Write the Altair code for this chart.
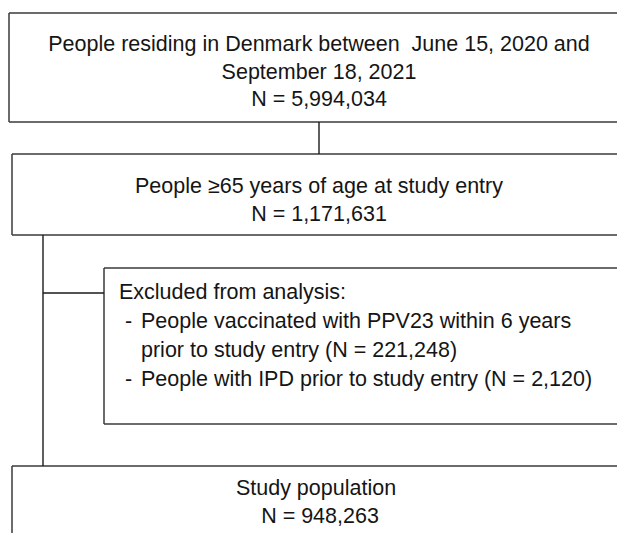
import altair as alt
import pandas as pd

# Box geometry (pixel coordinates of the reference image); boxes run off the right edge
box_names = ["source", "age", "excluded", "study"]
box_x1 = [9, 12, 104, 12]
box_y1 = [13, 154, 268, 466]
box_y2 = [122, 235, 424, 600]

# Connector lines
line_x1 = [319, 43, 43]
line_x2 = [319, 43, 104]
line_y1 = [122, 235, 293]
line_y2 = [154, 466, 293]

# Centered texts
center_text = [
    "People residing in Denmark between\u00a0 June 15, 2020 and",
    "September 18, 2021",
    "N = 5,994,034",
    "People \u226565 years of age at study entry",
    "N = 1,171,631",
    "Study population",
    "N = 948,263",
]
center_x = [319, 319, 319, 319, 319, 316, 320]
center_y = [51, 79, 106, 193, 221, 495, 523]

# Left-aligned texts (exclusion box)
left_text = [
    "Excluded from analysis:",
    "-",
    "People vaccinated with PPV23 within 6 years",
    "prior to study entry (N = 221,248)",
    "-",
    "People with IPD prior to study entry (N = 2,120)",
]
left_x = [119, 125, 141, 141, 125, 141]
left_y = [299, 328, 328, 357, 386, 386]

W, H = 609, 525
RIGHT = 8 + W + 20
X = alt.Scale(domain=[8, 8 + W], nice=False, zero=False)
Y = alt.Scale(domain=[8 + H, 8], nice=False, zero=False)

# box borders as segments (top, bottom, left), right side runs off the page
seg_rows = []
for n, x1, y1, y2 in zip(box_names, box_x1, box_y1, box_y2):
    seg_rows.append({"x1": x1, "x2": RIGHT, "y1": y1, "y2": y1})
    seg_rows.append({"x1": x1, "x2": RIGHT, "y1": y2, "y2": y2})
    seg_rows.append({"x1": x1, "x2": x1, "y1": y1, "y2": y2})
segs = pd.DataFrame(seg_rows)
lines = pd.DataFrame({"x1": line_x1, "x2": line_x2, "y1": line_y1, "y2": line_y2})
ctext = pd.DataFrame({"t": center_text, "x": center_x, "y": center_y})
ltext = pd.DataFrame({"t": left_text, "x": left_x, "y": left_y})

FONT = "Liberation Sans"
FS = 21.5
COL = "#151515"

borders = alt.Chart(segs).mark_rule(color="#3a3a3a", strokeWidth=1.5, clip=True).encode(
    x=alt.X("x1:Q", scale=X, axis=None),
    x2="x2:Q",
    y=alt.Y("y1:Q", scale=Y, axis=None),
    y2="y2:Q",
)

rules = alt.Chart(lines).mark_rule(color="#1a1a1a", strokeWidth=1.4).encode(
    x=alt.X("x1:Q", scale=X, axis=None),
    x2="x2:Q",
    y=alt.Y("y1:Q", scale=Y, axis=None),
    y2="y2:Q",
)

ct = alt.Chart(ctext).mark_text(
    font=FONT, fontSize=FS, color=COL, align="center", baseline="alphabetic"
).encode(
    x=alt.X("x:Q", scale=X, axis=None),
    y=alt.Y("y:Q", scale=Y, axis=None),
    text="t:N",
)

lt = alt.Chart(ltext).mark_text(
    font=FONT, fontSize=FS, color=COL, align="left", baseline="alphabetic"
).encode(
    x=alt.X("x:Q", scale=X, axis=None),
    y=alt.Y("y:Q", scale=Y, axis=None),
    text="t:N",
)

chart = alt.layer(borders, rules, ct, lt).properties(
    width=W, height=H, autosize=alt.AutoSizeParams(type="none"), padding=0, background="white"
).configure_view(stroke=None)

chart.save("out.html", embed_options={"renderer": "svg", "actions": False})
